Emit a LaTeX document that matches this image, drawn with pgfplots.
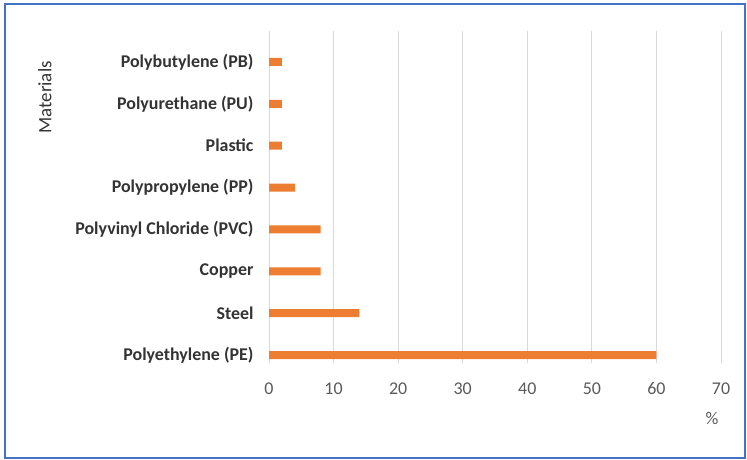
\documentclass[border=0pt]{standalone}
\usepackage{fontspec}
\setmainfont{Carlito}
\usepackage{pgfplots}
\pgfplotsset{compat=1.18}
\definecolor{barorange}{HTML}{ED7D31}
\definecolor{gridgray}{HTML}{D9D9D9}
\definecolor{ticktext}{HTML}{595959}
\definecolor{frameblue}{HTML}{4472C4}
\begin{document}
\begin{tikzpicture}[x=1bp,y=1bp]
\useasboundingbox (0,0) rectangle (747,460);
\draw[frameblue, line width=2bp] (5,2) rectangle (745,456);
\begin{axis}[
    at={(269bp,97bp)}, anchor=south west,
    scale only axis,
    width=452bp, height=332bp,
    xbar, bar width=8bp,
    xmin=0, xmax=70,
    ymin=-0.19, ymax=7.74,
    xtick={0,10,...,70},
    ytick={0,...,7},
    yticklabels={Polyethylene (PE),Steel,Copper,Polyvinyl Chloride (PVC),Polypropylene (PP),Plastic,Polyurethane (PU),Polybutylene (PB)},
    axis line style={draw=none},
    xmajorgrids, grid style={gridgray, line width=1bp},
    major tick length=0pt,
    tick style={draw=none},
    xticklabel style={font=\fontsize{18}{20}\selectfont, text=ticktext, yshift=-16bp},
    yticklabel style={font=\fontsize{18}{20}\selectfont\bfseries, text=black!80, xshift=-12bp},
    /pgf/number format/assume math mode=true,
    xlabel={\%},
    xlabel style={at={(axis description cs:0.98,0)}, anchor=center, yshift=-55bp, font=\fontsize{18}{20}\selectfont, text=ticktext},
    ylabel={Materials},
    ylabel style={at={(axis description cs:-0.496,0.8)}, anchor=center, font=\fontsize{19}{21}\selectfont, text=black!80},
]
\addplot[fill=barorange, draw=none] coordinates {
    (60,0) (14,1) (8,2) (8,3) (4,4) (2,5) (2,6) (2,7)
};
\end{axis}
\end{tikzpicture}
\end{document}
